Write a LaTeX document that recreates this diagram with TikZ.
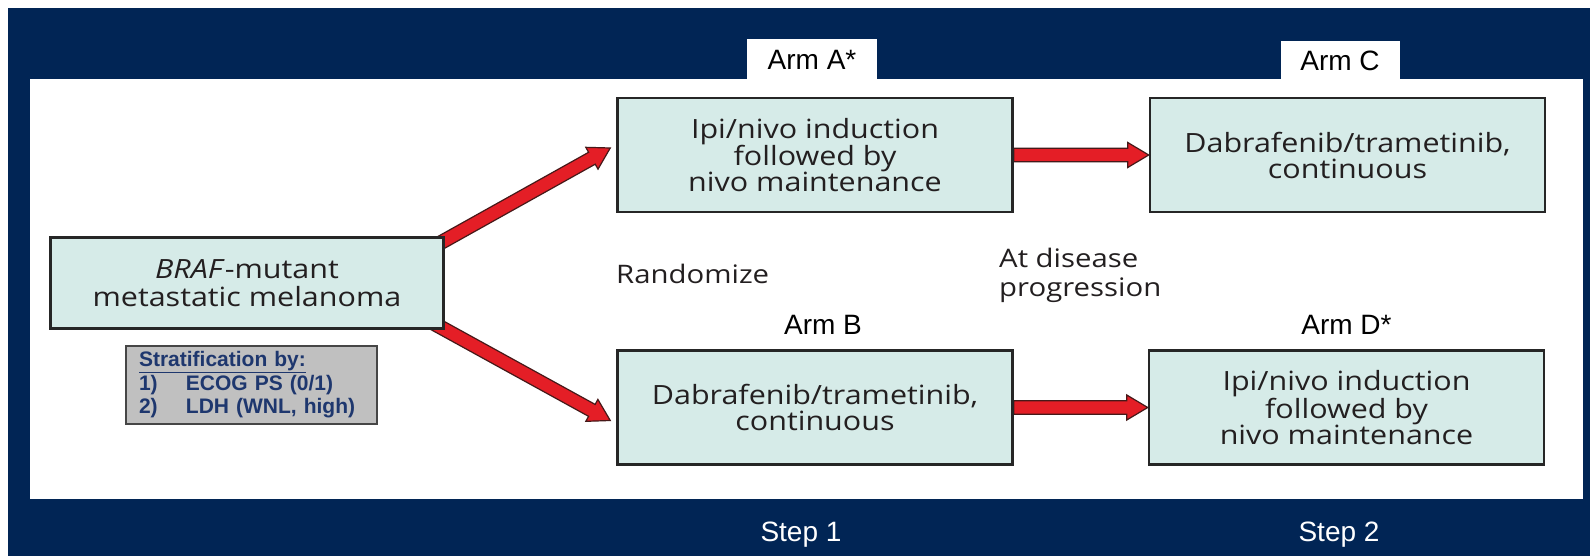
\documentclass[tikz,border=0pt]{standalone}
\usepackage{fontspec}
\setmainfont{Open Sans}[FakeStretch=1.15]
\newfontfamily\armfont{Liberation Sans}
\newfontfamily\stratfont{Liberation Sans}
\usetikzlibrary{backgrounds, calc, positioning}
\definecolor{navybg}{RGB}{1,37,85}
\definecolor{armfill}{RGB}{214,235,232}
\definecolor{arrowred}{RGB}{228,30,38}
\definecolor{arrowedge}{RGB}{70,25,25}
\definecolor{stratfill}{RGB}{192,192,192}
\definecolor{stratedge}{RGB}{70,70,70}
\definecolor{strattext}{RGB}{30,55,110}
\definecolor{boxtext}{RGB}{35,31,32}
\tikzstyle{arm} = [rectangle, draw=black!85, line width=2.5pt, fill=armfill, minimum width=395pt, minimum height=114pt, align=center, text=boxtext, font=\fontsize{26.5}{26}\selectfont]
\tikzstyle{armlabel} = [inner sep=0pt, font=\armfont\fontsize{28}{32}\selectfont]
\tikzstyle{plain} = [inner sep=0pt, text=boxtext, font=\fontsize{25.5}{29}\selectfont]
\tikzstyle{fatarrow} = [draw=arrowedge, fill=arrowred, line width=1.2pt, line join=miter]
\newcommand{\redarrow}[2]{%
  \path ($(#2)!21pt!(#1)$) coordinate (hb);
  \draw[fatarrow] ($(#1)!6.8pt!90:(#2)$) -- ($(hb)!6.8pt!90:(#2)$) -- ($(hb)!12.5pt!90:(#2)$) -- (#2)
    -- ($(hb)!12.5pt!-90:(#2)$) -- ($(hb)!6.8pt!-90:(#2)$) -- ($(#1)!6.8pt!-90:(#2)$) -- cycle;}

\begin{document}
\begin{tikzpicture}[x=1pt, y=-1pt]
	\useasboundingbox (0,0) rectangle (1590,556);

	\node (braf) [arm, minimum width=393pt, minimum height=91pt, font=\fontsize{26.5}{28}\selectfont] at (247,283) {\textit{BRAF}-mutant\\metastatic melanoma};
	\node (strat) [rectangle, draw=stratedge, line width=1.5pt, fill=stratfill, text=strattext, text width=225pt, inner xsep=13pt, inner ysep=0pt, minimum height=78pt, align=left, font=\stratfont\bfseries\fontsize{21}{23.5}\selectfont] at (251.5,385)
		{\underline{Stratification by:}\\\makebox[47pt][l]{1)}ECOG PS (0/1)\\\makebox[47pt][l]{2)}LDH (WNL, high)};

	\node (boxA) [arm] at (815,155) {Ipi/nivo induction\\followed by\\nivo maintenance};
	\node (boxC) [arm, right=135pt of boxA] {Dabrafenib/trametinib,\\continuous};
	\node (boxB) [arm, below=136pt of boxA] {Dabrafenib/trametinib,\\continuous};
	\node (boxD) [arm, right=134pt of boxB] {Ipi/nivo induction\\followed by\\nivo maintenance};

	\node (armA) [armlabel, fill=white, minimum width=130pt, minimum height=42pt] at (812,60) {Arm A*};
	\node (armC) [armlabel, fill=white, minimum width=119pt, minimum height=40pt] at (1340,61) {Arm C};
	\node (armB) [armlabel, above=15pt of boxB, xshift=8pt] {Arm B};
	\node (armD) [armlabel, above=15pt of boxD] {Arm D*};

	\node (rand) [plain, anchor=west] at (616,274) {Randomize};
	\node (prog) [plain, anchor=west, align=left] at (999,275) {At disease\\progression};

	\node (step1) [armlabel, text=white] at (801,535) {Step 1};
	\node (step2) [armlabel, text=white] at (1339,535) {Step 2};

	\coordinate (tailA) at ($(braf.north east)+(-14,12)$);
	\coordinate (tipA) at ($(boxA.west)+(-6,-7)$);
	\coordinate (tailB) at ($(braf.south east)+(-14,-8)$);
	\coordinate (tipB) at ($(boxB.west)+(-6,13)$);

	\begin{scope}[on background layer]
		\fill[navybg] (8,8) rectangle (1590,556);
		\fill[white] (30,79) rectangle (1583,499);
		\redarrow{tailA}{tipA}
		\redarrow{tailB}{tipB}
		\redarrow{boxA.east}{boxC.west}
		\redarrow{boxB.east}{boxD.west}
	\end{scope}
\end{tikzpicture}
\end{document}
